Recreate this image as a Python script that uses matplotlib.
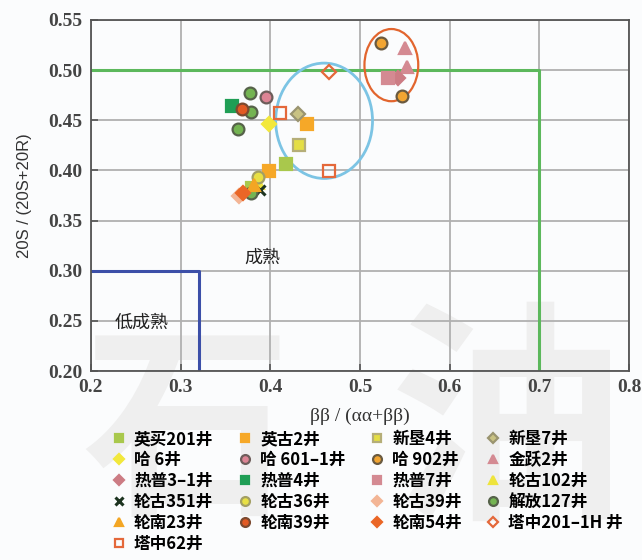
"""Sterane isomer maturity cross-plot: 20S/(20S+20R) vs bb/(aa+bb)."""

import matplotlib
matplotlib.use("Agg")
import matplotlib.pyplot as plt
from matplotlib.patches import Ellipse


plt.rcParams["font.family"] = ["Noto Sans CJK SC", "DejaVu Sans"]

# well names, in legend order (row by row)
WELLS = [
    "英买201井", "英古2井", "新垦4井", "新垦7井",
    "哈 6井", "哈 601–1井", "哈 902井", "金跃2井",
    "热普3–1井", "热普4井", "热普7井", "轮古102井",
    "轮古351井", "轮古36井", "轮古39井", "解放127井",
    "轮南23井", "轮南39井", "轮南54井", "塔中201–1H 井",
    "塔中62井",
]

# x = bb/(aa+bb), y = 20S/(20S+20R), one list per well
BB_RATIO = [
    [0.417, 0.380], [0.441, 0.399], [0.432], [0.431],
    [0.399], [0.395], [0.523, 0.547], [0.550, 0.553],
    [0.542], [0.357], [0.531], [0.386],
    [0.389], [0.386], [0.365], [0.377, 0.378, 0.364, 0.378],
    [0.382], [0.368], [0.369], [0.465],
    [0.411, 0.465],
]
S_RATIO = [
    [0.406, 0.382], [0.446, 0.399], [0.425], [0.456],
    [0.446], [0.473], [0.527, 0.474], [0.522, 0.503],
    [0.492], [0.464], [0.492], [0.387],
    [0.380], [0.393], [0.374], [0.477, 0.458, 0.441, 0.377],
    [0.385], [0.461], [0.377], [0.498],
    [0.457, 0.399],
]

# marker, face colour, edge colour
STYLES = [
    ("s", "#a9c84c", "#a9c84c"), ("s", "#f6a828", "#f6a828"),
    ("s", "#e4de44", "#b5ae78"), ("D", "#c9c283", "#9a9470"),
    ("D", "#f2e83c", "#f2e83c"), ("o", "#dc8494", "#6d5d5a"),
    ("o", "#f2a532", "#6a5a40"), ("^", "#d48a92", "#d48a92"),
    ("D", "#cc7c84", "#cc7c84"), ("s", "#1f9e55", "#1f9e55"),
    ("s", "#d48a92", "#d48a92"), ("^", "#eee43c", "#eee43c"),
    ("x", "#1d3420", "#1d3420"), ("o", "#e8e044", "#a39f64"),
    ("D", "#f3b595", "#f3b595"), ("o", "#74b452", "#56624a"),
    ("^", "#f3a624", "#f3a624"), ("o", "#e25a24", "#7c4a30"),
    ("D", "#ea6626", "#ea6626"), ("D", "none", "#e4683a"),
    ("s", "none", "#e4683a"),
]

X_TICKS = [0.2, 0.3, 0.4, 0.5, 0.6, 0.7, 0.8]
Y_TICKS = [0.20, 0.25, 0.30, 0.35, 0.40, 0.45, 0.50, 0.55]
LEGEND_COLUMNS = 4


def main() -> None:
    fig = plt.figure(figsize=(6.42, 5.6), dpi=100)
    fig.patch.set_facecolor("#fbfcfd")

    # faint watermark, kept behind the axes
    fig.text(0.29, 0.22, "石", fontsize=150, color="#efefef",
             ha="center", va="center", zorder=-10, fontweight="bold")
    fig.text(0.79, 0.23, "油", fontsize=170, color="#efefef",
             ha="center", va="center", zorder=-10, fontweight="bold")

    ax = fig.add_axes([0.1417, 0.3375, 0.838, 0.6268])
    ax.set_zorder(1)
    ax.set_facecolor("none")
    ax.set_xlim(0.2, 0.8)
    ax.set_ylim(0.2, 0.55)
    ax.set_xticks(X_TICKS)
    ax.set_yticks(Y_TICKS)
    ax.set_xticklabels([f"{v:.1f}" for v in X_TICKS])
    ax.set_yticklabels([f"{v:.2f}" for v in Y_TICKS])
    for lab in ax.get_xticklabels() + ax.get_yticklabels():
        lab.set_family("Liberation Serif")
        lab.set_fontweight("bold")
        lab.set_fontsize(14)
        lab.set_color("#444444")
    ax.tick_params(direction="in", length=5, color="#555555", width=1.2,
                   pad=6)
    for spine in ax.spines.values():
        spine.set_color("#555555")
        spine.set_linewidth(1.3)
    ax.grid(True, color="#b0b0b0", linewidth=1.3, zorder=0)
    ax.set_axisbelow(True)

    ax.set_xlabel("ββ / (αα+ββ)", family="Liberation Serif", fontsize=14,
                  color="#333333", labelpad=8)
    ax.set_ylabel("20S / (20S+20R)", family="Liberation Sans", fontsize=12,
                  color="#333333", labelpad=12)

    # maturity boundaries
    ax.plot([0.2, 0.7, 0.7], [0.5, 0.5, 0.2], color="#5cb85c", lw=2.2,
            zorder=1)
    ax.plot([0.2, 0.32, 0.32], [0.3, 0.3, 0.2], color="#3c4fa8", lw=2.2,
            zorder=1)
    ax.text(0.391, 0.313, "成熟", fontsize=13, color="#222222",
            ha="center", va="center")
    ax.text(0.257, 0.248, "低成熟", fontsize=13, color="#222222",
            ha="center", va="center")

    ax.add_patch(Ellipse((0.460, 0.4495), 0.108, 0.115, fill=False,
                         edgecolor="#7cc4e4", lw=2.0, zorder=2))
    ax.add_patch(Ellipse((0.535, 0.505), 0.060, 0.072, fill=False,
                         edgecolor="#e2652e", lw=1.6, zorder=2))

    handles = []
    for name, xs, ys, (marker, face, edge) in zip(WELLS, BB_RATIO, S_RATIO,
                                                   STYLES):
        if marker == "x":
            h, = ax.plot(xs, ys, linestyle="none", marker="x", markersize=7,
                         markeredgewidth=2.2, color=edge, label=name, zorder=4)
        else:
            size = 7 if marker == "D" else 8.5
            h, = ax.plot(xs, ys, linestyle="none", marker=marker,
                         markersize=size, markerfacecolor=face,
                         markeredgecolor=edge, markeredgewidth=1.6,
                         label=name, zorder=4)
        handles.append(h)

    # legend fills column by column, so reorder to read row by row
    ordered = [handles[i]
               for col in range(LEGEND_COLUMNS)
               for i in range(col, len(handles), LEGEND_COLUMNS)]
    fig.legend(handles=ordered, loc="upper left",
               bbox_to_anchor=(0.175, 0.232), ncol=LEGEND_COLUMNS,
               frameon=False, prop={"size": 12, "weight": "bold"},
               borderpad=0, borderaxespad=0,
               handlelength=0.8, handletextpad=0.5,
               columnspacing=1.5, labelspacing=0.18, markerscale=0.75)

    fig.savefig("out.png", dpi=100, facecolor=fig.get_facecolor())


if __name__ == "__main__":
    main()
